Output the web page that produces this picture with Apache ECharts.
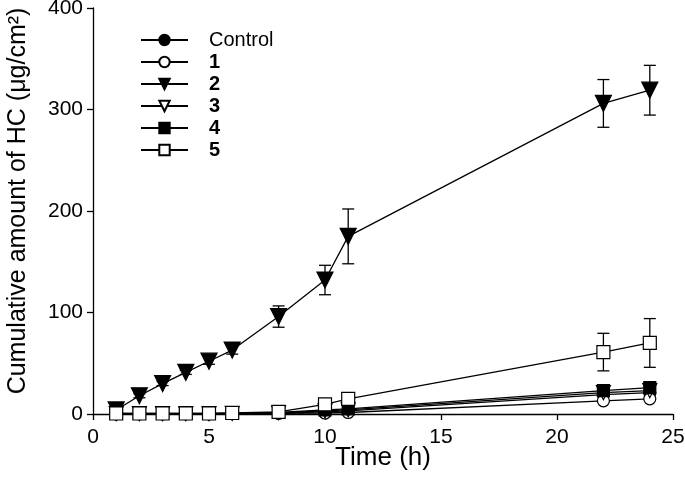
<!DOCTYPE html>
<html>
<head>
<meta charset="utf-8">
<script src="https://cdn.jsdelivr.net/npm/echarts@6/dist/echarts.min.js"></script>
<style>html,body{margin:0;padding:0;background:#fff}#c{width:685px;height:493px}</style>
</head>
<body>
<div id="c"></div>
<script>
var times = [1, 2, 3, 4, 5, 6, 8, 10, 11, 22, 24];
var seriesNames = ['Control', '1', '2', '3', '4', '5'];
var controlVals = [0.3, 0.3, 0.3, 0.3, 0.3, 0.5, 1, 2, 3, 19, 21];
var s1Vals = [0.2, 0.2, 0.2, 0.2, 0.2, 0.3, 0.6, 1, 1.5, 13, 15];
var s2Vals = [4, 18, 30, 41, 52, 63, 96, 132, 175, 306, 319];
var s2Err = [1, 2, 2, 2, 3, 4, 10.5, 14.5, 27, 23.5, 24.5];
var s3Vals = [0.3, 0.3, 0.3, 0.3, 0.3, 0.6, 1.2, 3, 4, 21, 23];
var s4Vals = [0.5, 0.5, 0.5, 0.5, 0.5, 0.8, 1.5, 4, 5, 23, 26];
var s5Vals = [0.5, 0.5, 0.5, 0.5, 0.5, 1, 2, 9.5, 15, 61, 70];
var s5Err = [3, 3, 3, 3, 3, 3, 1, 2, 2, 18.5, 24];
var xTicks = [0, 5, 10, 15, 20, 25];
var yTicks = [0, 100, 200, 300, 400];

function pairs(v) { return times.map(function (t, i) { return [t, v[i]]; }); }
function errs(v, e) { return times.map(function (t, i) { return [t, v[i] - e[i], v[i] + e[i]]; }); }

var FONT = '"Liberation Sans", Arial, sans-serif';

function errSeries(data) {
  return {
    type: 'custom', z: 1, silent: true,
    renderItem: function (params, api) {
      var lo = api.coord([api.value(0), api.value(1)]);
      var hi = api.coord([api.value(0), api.value(2)]);
      var hw = 6;
      var st = { stroke: '#000', lineWidth: 1.3 };
      return { type: 'group', children: [
        { type: 'line', shape: { x1: lo[0], y1: lo[1], x2: hi[0], y2: hi[1] }, style: st },
        { type: 'line', shape: { x1: lo[0] - hw, y1: lo[1], x2: lo[0] + hw, y2: lo[1] }, style: st },
        { type: 'line', shape: { x1: hi[0] - hw, y1: hi[1], x2: hi[0] + hw, y2: hi[1] }, style: st }
      ] };
    },
    data: data
  };
}

function lineSeries(name, vals, symbol, size, filled, rotate) {
  return {
    name: name, type: 'line', z: 3, data: pairs(vals),
    symbol: symbol, symbolSize: size, symbolRotate: rotate || 0, showAllSymbol: true,
    lineStyle: { color: '#000', width: 1.3 },
    itemStyle: { color: filled ? '#000' : '#fff', borderColor: '#000', borderWidth: 1.2, opacity: 1 },
    emphasis: { disabled: true }, animation: false
  };
}

var chart = echarts.init(document.getElementById('c'));
chart.setOption({
  animation: false,
  backgroundColor: '#fff',
  grid: { left: 93, right: 12, top: 8, bottom: 79, containLabel: false, outerBoundsMode: 'none' },
  legend: {
    orient: 'vertical', left: 135, top: 24, itemWidth: 47, itemHeight: 13, itemGap: 0,
    data: seriesNames,
    formatter: function (n) { return n === 'Control' ? n : '{b|' + n + '}'; },
    textStyle: { fontFamily: FONT, fontSize: 20, lineHeight: 22, color: '#000', padding: [0, 0, 0, 16],
      rich: { b: { fontFamily: FONT, fontSize: 20, lineHeight: 22, fontWeight: 'bold', color: '#000' } } }
  },
  xAxis: {
    type: 'value', min: xTicks[0], max: xTicks[xTicks.length - 1], interval: 5,
    name: 'Time (h)', nameLocation: 'middle', nameGap: 31, nameMoveOverlap: false,
    nameTextStyle: { fontFamily: FONT, fontSize: 26, color: '#000' },
    axisLine: { lineStyle: { color: '#000', width: 1.3 } },
    axisTick: { inside: false, length: 6, lineStyle: { color: '#000', width: 1.3 } },
    axisLabel: { fontFamily: FONT, fontSize: 21, color: '#000', margin: 13 },
    splitLine: { show: false }
  },
  yAxis: {
    type: 'value', min: yTicks[0], max: yTicks[yTicks.length - 1], interval: 100,
    name: 'Cumulative amount of HC (\u03bcg/cm\u00b2)', nameLocation: 'middle', nameGap: 62, nameMoveOverlap: false,
    nameTextStyle: { fontFamily: FONT, fontSize: 25, color: '#000', padding: [0, 0, 0, 20] },
    axisLine: { show: true, lineStyle: { color: '#000', width: 1.3 } },
    axisTick: { show: true, inside: false, length: 6, lineStyle: { color: '#000', width: 1.3 } },
    axisLabel: { fontFamily: FONT, fontSize: 21, color: '#000', margin: 10 },
    splitLine: { show: false }
  },
  series: [
    errSeries(errs(s2Vals, s2Err)),
    errSeries(errs(s5Vals, s5Err)),
    lineSeries('Control', controlVals, 'circle', 12, true),
    lineSeries('1', s1Vals, 'circle', 12, false),
    lineSeries('3', s3Vals, 'triangle', 14, false, 180),
    lineSeries('4', s4Vals, 'rect', 12, true),
    lineSeries('2', s2Vals, 'triangle', 16, true, 180),
    lineSeries('5', s5Vals, 'rect', 13, false)
  ]
});
</script>
</body>
</html>
